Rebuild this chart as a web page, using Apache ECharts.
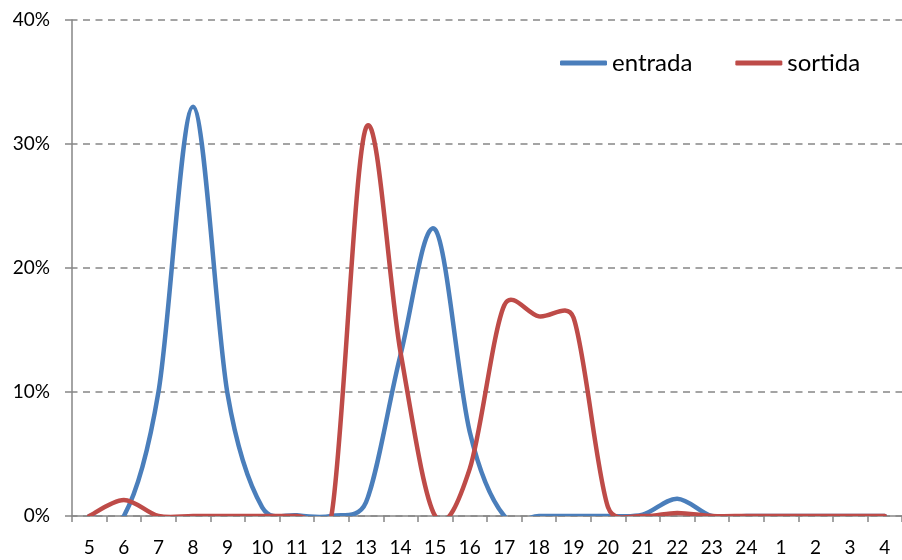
<!DOCTYPE html>
<html><head><meta charset="utf-8">
<script src="https://cdn.jsdelivr.net/npm/echarts@6/dist/echarts.min.js"></script>
<style>html,body{margin:0;padding:0;background:#fff}#c{width:902px;height:560px}</style>
</head><body><div id="c"></div>
<script>
const categories = ['5','6','7','8','9','10','11','12','13','14','15','16','17','18','19','20','21','22','23','24','1','2','3','4'];
const entrada = [0,0,10,33,9.8,0.7,0.06,0,1.1,13,23.1,6.8,0,0,0,0,0.1,1.4,0,0,0,0,0,0];
const sortida = [0,1.3,0,0,0,0,0,0,31.3,13.2,0,3.8,17.0,16.1,16.0,0.7,0,0.25,0,0,0,0,0,0];
const yTicks = [0,10,20,30,40];

const FONT = 'Lato';

function dist(a, b) { return Math.hypot(b[0] - a[0], b[1] - a[1]); }

// Excel-like smoothed line: Bezier through the data points (converted via the axes),
// tangent length 1/6 of the neighbour chord, limited to half of the segment.
function smoothSeries(name, values, color) {
  return {
    name: name, type: 'custom', coordinateSystem: 'cartesian2d', clip: true,
    data: values.map((v, i) => [i, v]),
    encode: {x: 0, y: 1},
    itemStyle: {color: color},
    renderItem: function (params, api) {
      if (params.dataIndex !== 0) return null;
      const pts = values.map((v, i) => api.coord([i, v]));
      const n = pts.length;
      let d = 'M' + pts[0][0] + ' ' + pts[0][1];
      for (let i = 0; i < n - 1; i++) {
        const p0 = pts[Math.max(i - 1, 0)], p1 = pts[i], p2 = pts[i + 1], p3 = pts[Math.min(i + 2, n - 1)];
        const d12 = dist(p1, p2), d02 = dist(p0, p2), d13 = dist(p1, p3);
        let f0 = 1 / 6, f1 = 1 / 6;
        if (d02 > 0 && d02 / 6 > d12 / 2) f0 = d12 / (2 * d02);
        if (d13 > 0 && d13 / 6 > d12 / 2) f1 = d12 / (2 * d13);
        const c1x = p1[0] + (p2[0] - p0[0]) * f0, c1y = p1[1] + (p2[1] - p0[1]) * f0;
        const c2x = p2[0] - (p3[0] - p1[0]) * f1, c2y = p2[1] - (p3[1] - p1[1]) * f1;
        d += ' C' + c1x + ' ' + c1y + ' ' + c2x + ' ' + c2y + ' ' + p2[0] + ' ' + p2[1];
      }
      return {
        type: 'path', shape: {pathData: d},
        style: {fill: 'none', stroke: color, lineWidth: 4.5, lineCap: 'round', lineJoin: 'round'}
      };
    }
  };
}

const chart = echarts.init(document.getElementById('c'), null, {renderer: 'canvas'});
chart.setOption({
  animation: false,
  backgroundColor: '#fff',
  grid: {left: 72, top: 20, width: 834, height: 496, containLabel: false},
  legend: {
    left: 555, top: 46,
    itemWidth: 47, itemHeight: 5, itemGap: 43,
    icon: 'roundRect',
    textStyle: {fontFamily: FONT, fontSize: 24, color: '#000'},
    data: [{name: 'entrada', itemStyle: {color: '#4A7EBB'}}, {name: 'sortida', itemStyle: {color: '#BE4B48'}}]
  },
  xAxis: {
    type: 'category', data: categories, boundaryGap: true,
    axisLine: {lineStyle: {color: '#868686', width: 1.5}},
    axisTick: {show: true, alignWithLabel: false, length: 6, lineStyle: {color: '#868686', width: 1.5}},
    axisLabel: {fontFamily: FONT, fontSize: 19, color: '#000', margin: 22, interval: 0}
  },
  yAxis: {
    type: 'value', min: yTicks[0], max: yTicks[yTicks.length - 1], interval: 10,
    axisLine: {show: true, lineStyle: {color: '#868686', width: 1.5}},
    axisTick: {show: true, length: 7, lineStyle: {color: '#868686', width: 1.5}},
    axisLabel: {fontFamily: FONT, fontSize: 19, color: '#000', margin: 22, formatter: '{value}%'},
    splitLine: {show: true, lineStyle: {color: '#868686', width: 1.5, type: [7, 5.5], dashOffset: 1.5}}
  },
  series: [
    smoothSeries('entrada', entrada, '#4A7EBB'),
    smoothSeries('sortida', sortida, '#BE4B48')
  ]
});
</script></body></html>
